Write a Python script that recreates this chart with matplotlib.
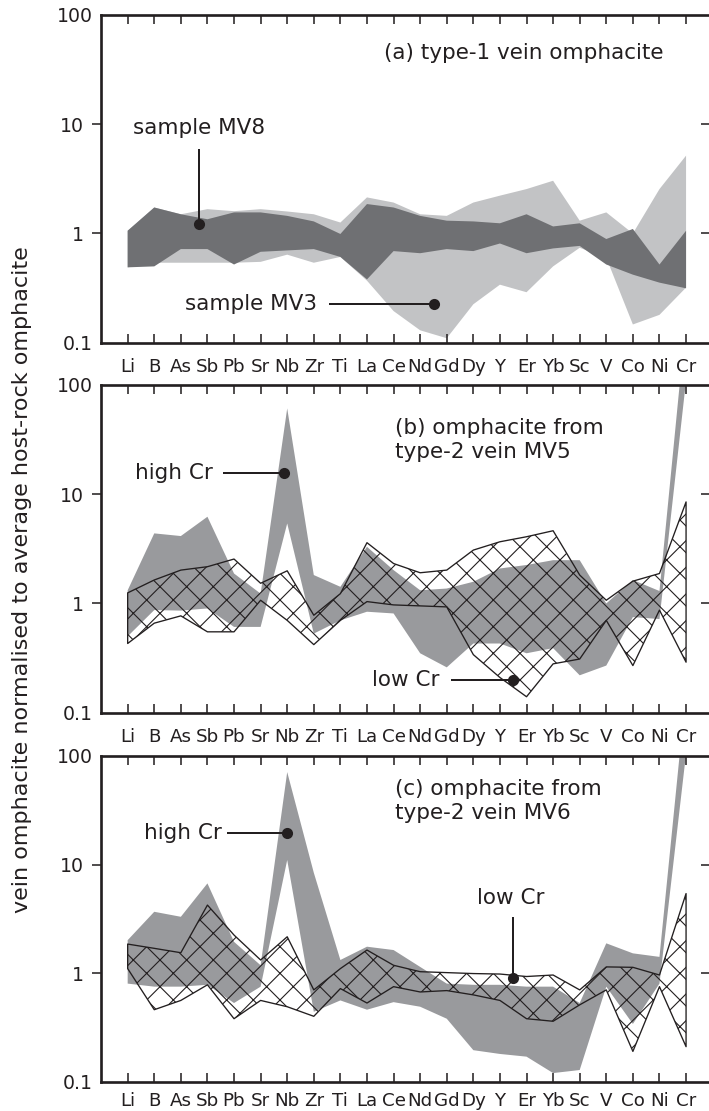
import numpy as np
import matplotlib
matplotlib.use("Agg")
import matplotlib.pyplot as plt
from matplotlib.ticker import NullLocator

# hatch spacing scales with dpi, 160 dpi + "xx" gives ~27 px diamonds like the original
DPI = 160
plt.rcParams["hatch.linewidth"] = 0.5
ink = "#231f20"

elements = ["Li", "B", "As", "Sb", "Pb", "Sr", "Nb", "Zr", "Ti", "La", "Ce",
            "Nd", "Gd", "Dy", "Y", "Er", "Yb", "Sc", "V", "Co", "Ni", "Cr"]

# (a) type-1 vein omphacite: envelopes (max / min)
mv3_hi = [1.06, 1.73, 1.50, 1.67, 1.60, 1.67, 1.59, 1.50, 1.26, 2.14, 1.92,
          1.50, 1.45, 1.92, 2.22, 2.55, 3.04, 1.31, 1.56, 1.00, 2.55, 5.16]
mv3_lo = [0.49, 0.54, 0.54, 0.54, 0.54, 0.55, 0.64, 0.54, 0.61, 0.37, 0.195,
          0.13, 0.11, 0.225, 0.34, 0.29, 0.50, 0.74, 0.60, 0.147, 0.18, 0.32]
mv8_hi = [1.06, 1.73, 1.50, 1.35, 1.56, 1.56, 1.45, 1.29, 0.99, 1.86, 1.73,
          1.45, 1.31, 1.29, 1.24, 1.50, 1.16, 1.24, 0.89, 1.10, 0.52, 1.06]
mv8_lo = [0.49, 0.50, 0.72, 0.72, 0.52, 0.68, 0.70, 0.72, 0.61, 0.38, 0.69,
          0.66, 0.72, 0.69, 0.81, 0.66, 0.73, 0.77, 0.52, 0.42, 0.355, 0.315]

# (b) type-2 vein MV5
mv5_high_hi = [1.32, 4.38, 4.14, 6.22, 1.88, 1.23, 61, 1.82, 1.42, 3.3, 2.02,
               1.32, 1.37, 1.58, 2.09, 2.25, 2.49, 2.49, 1.0, 1.64, 1.3, 400]
mv5_high_lo = [0.50, 0.87, 0.86, 0.90, 0.61, 0.61, 5.4, 0.53, 0.70, 0.84, 0.81,
               0.35, 0.26, 0.43, 0.43, 0.35, 0.39, 0.22, 0.27, 0.75, 0.72, 110]
mv5_low_hi = [1.25, 1.64, 2.02, 2.17, 2.55, 1.53, 1.99, 0.78, 1.23, 3.6, 2.32,
              1.91, 2.02, 3.08, 3.67, 4.08, 4.63, 1.82, 1.07, 1.60, 1.88, 8.5]
mv5_low_lo = [0.43, 0.66, 0.77, 0.55, 0.55, 1.07, 0.70, 0.42, 0.70, 1.04, 0.97,
              0.95, 0.93, 0.34, 0.21, 0.14, 0.28, 0.31, 0.70, 0.27, 0.87, 0.29]

# (c) type-2 vein MV6
mv6_high_hi = [2.01, 3.67, 3.30, 6.7, 1.94, 1.18, 71, 8.4, 1.32, 1.75, 1.63,
               1.14, 0.80, 0.78, 0.78, 0.75, 0.75, 0.53, 1.88, 1.52, 1.41, 400]
mv6_high_lo = [0.80, 0.75, 0.75, 0.78, 0.53, 0.75, 11, 0.44, 0.56, 0.46, 0.54,
               0.49, 0.38, 0.195, 0.18, 0.17, 0.12, 0.128, 0.75, 0.34, 0.80, 105]
mv6_low_hi = [1.85, 1.69, 1.54, 4.23, 2.24, 1.32, 2.16, 0.70, 1.10, 1.63, 1.18,
              1.03, 1.01, 0.99, 0.98, 0.93, 0.96, 0.70, 1.14, 1.13, 0.96, 5.4]
mv6_low_lo = [1.10, 0.46, 0.56, 0.78, 0.38, 0.56, 0.49, 0.40, 0.72, 0.53, 0.75,
              0.67, 0.69, 0.63, 0.56, 0.38, 0.36, 0.51, 0.70, 0.19, 0.75, 0.21]

x = np.arange(len(elements))

fig = plt.figure(figsize=(709 / DPI, 1111 / DPI), dpi=DPI)
left, width = 0.142, 0.8594
ax_a = fig.add_axes([left, 0.6915, width, 0.2950])
ax_b = fig.add_axes([left, 0.3585, width, 0.2950])
ax_c = fig.add_axes([left, 0.0264, width, 0.2932])


def style(ax, xpad=6.8):
    ax.set_yscale("log")
    ax.set_xlim(-1.015, 21.9)
    ax.set_ylim(0.1, 100)
    ax.set_xticks(x, elements)
    ax.set_yticks([0.1, 1, 10, 100], ["0.1", "1", "10", "100"])
    ax.yaxis.set_minor_locator(NullLocator())
    for s in ax.spines.values():
        s.set_linewidth(1.2)
        s.set_color(ink)
    ax.tick_params(axis="x", direction="in", top=True, length=4, width=0.7,
                   pad=xpad, labelsize=8.2, color=ink, labelcolor=ink)
    ax.tick_params(axis="y", direction="out", right=False, length=4, width=0.7,
                   pad=3.5, labelsize=8.5, color=ink, labelcolor=ink)
    # no outer tick at the corners, labels sit closer there
    for t in ax.yaxis.get_major_ticks():
        if t.get_loc() in (0.1, 100):
            t.tick1line.set_visible(False)
            t.set_pad(-0.5)
    sec = ax.secondary_yaxis("right")
    sec.set_yticks([1, 10])
    sec.yaxis.set_minor_locator(NullLocator())
    sec.tick_params(direction="in", length=4, width=0.7, color=ink, labelright=False)
    sec.spines["right"].set_linewidth(1.2)


def callout(ax, label, xy, start, text_xy, ha="right"):
    ax.plot([start[0], xy[0]], [start[1], xy[1]], color=ink, lw=0.9)
    ax.plot(xy[0], xy[1], "o", color=ink, ms=4)
    ax.text(text_xy[0], text_xy[1], label, ha=ha, va="center", fontsize=9.7, color=ink)


style(ax_a)
style(ax_b)
style(ax_c, xpad=4.6)

# (a)
ax_a.fill_between(x, mv3_lo, mv3_hi, facecolor="#c2c3c5", edgecolor="none", lw=0)
ax_a.fill_between(x, mv8_lo, mv8_hi, facecolor="#6f7073", edgecolor="none", lw=0)
ax_a.text(0.465, 0.884, "(a) type-1 vein omphacite", transform=ax_a.transAxes,
          ha="left", va="center", fontsize=9.7, color=ink)
callout(ax_a, "sample MV8", (2.68, 1.22), (2.68, 5.8), (2.68, 9.2), ha="center")
callout(ax_a, "sample MV3", (11.52, 0.226), (7.6, 0.226), (7.12, 0.226))

# (b)
ax_b.fill_between(x, mv5_high_lo, mv5_high_hi, facecolor="#999a9d", edgecolor="none", lw=0)
ax_b.fill_between(x, mv5_low_lo, mv5_low_hi, facecolor="none", edgecolor=ink,
                  hatch="xx", lw=0.6)
ax_b.text(0.483, 0.831, "(b) omphacite from\ntype-2 vein MV5", transform=ax_b.transAxes,
          ha="left", va="center", fontsize=9.7, color=ink, linespacing=1.25)
callout(ax_b, "high Cr", (5.88, 15.7), (3.62, 15.7), (3.21, 15.7))
callout(ax_b, "low Cr", (14.49, 0.2), (12.2, 0.2), (11.71, 0.2))

# (c)
ax_c.fill_between(x, mv6_high_lo, mv6_high_hi, facecolor="#999a9d", edgecolor="none", lw=0)
ax_c.fill_between(x, mv6_low_lo, mv6_low_hi, facecolor="none", edgecolor=ink,
                  hatch="xx", lw=0.6)
ax_c.text(0.483, 0.862, "(c) omphacite from\ntype-2 vein MV6", transform=ax_c.transAxes,
          ha="left", va="center", fontsize=9.7, color=ink, linespacing=1.25)
callout(ax_c, "high Cr", (5.99, 19.5), (3.79, 19.5), (3.55, 19.5))
callout(ax_c, "low Cr", (14.49, 0.90), (14.49, 3.2), (14.41, 4.9), ha="center")

fig.text(0.031, 0.478, "vein omphacite normalised to average host-rock omphacite",
         rotation=90, ha="center", va="center", fontsize=10, color=ink)

fig.savefig("out.png", dpi=DPI)
